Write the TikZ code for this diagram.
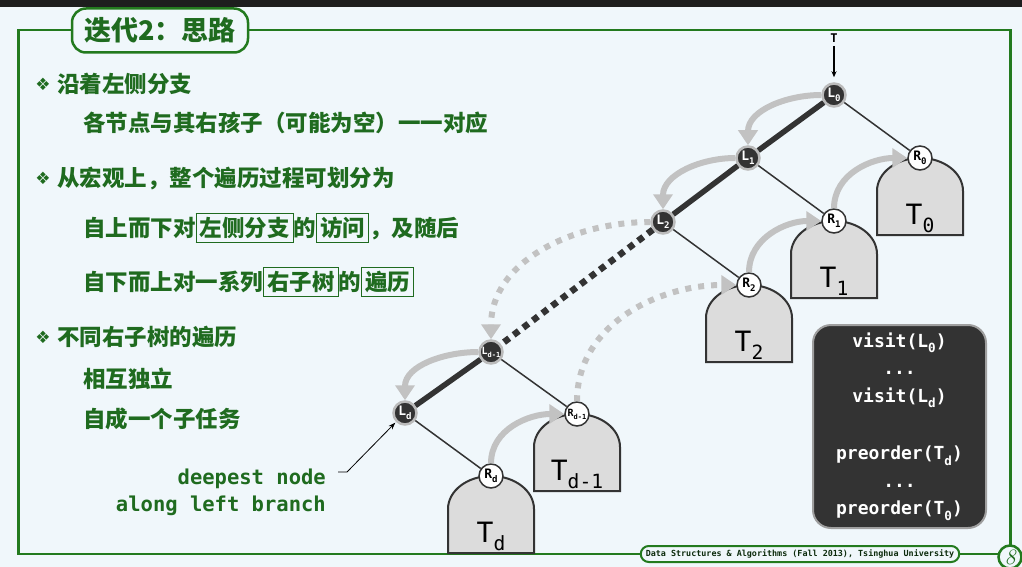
\documentclass[tikz,border=0pt]{standalone}
\usepackage{fontspec}
\usepackage{graphicx}
\setmonofont{DejaVu Sans Mono}
\newfontfamily\cjk{Noto Sans CJK SC}
\newfontfamily\symb{DejaVu Sans}
\usetikzlibrary{calc,positioning,arrows.meta}

\definecolor{pagebg}{HTML}{F0F7FB}
\definecolor{topband}{HTML}{1E1E1E}
\definecolor{dsgreen}{HTML}{1F6B1F}
\definecolor{framegreen}{HTML}{237A1E}
\definecolor{nodedark}{HTML}{333333}
\definecolor{ringgray}{HTML}{BBBBBB}
\definecolor{domegray}{HTML}{DCDCDC}
\definecolor{walkgray}{HTML}{C2C2C2}

\newcommand\kw[1]{{\setlength\fboxsep{3pt}\setlength\fboxrule{1pt}\fbox{#1}}}
\newcommand\dn[1]{\raisebox{-.3em}{\scalebox{.7}{#1}}}
% dome shaped subtree under a right child
\newcommand\drawsubtree[3]{%
    \draw[dome] ($(#1)+(-43,77)$) -- ($(#1)+(-43,33)$)
        arc[start angle=180,end angle=360,x radius=43,y radius=33]
        -- ($(#1)+(43,77)$) -- cycle;
    \node[domelbl] (#2) at ($(#1)+(0,66)$) {#3};}

\tikzset{
    frame/.style={framegreen,line width=2.5pt},
    titlebox/.style={draw=framegreen,line width=2.5pt,fill=pagebg,rounded corners=14pt,
        minimum width=176pt,minimum height=44pt,text=dsgreen,
        font=\cjk\bfseries\fontsize{27}{27}\selectfont},
    footbox/.style={draw=framegreen,line width=2pt,fill=pagebg,rounded corners=8pt,
        minimum height=16pt,inner xsep=5pt,inner ysep=2pt,text=dsgreen!40!black,
        font=\ttfamily\bfseries\fontsize{8.4}{9}\selectfont},
    pagecirc/.style={circle,draw=framegreen,line width=2.5pt,fill=pagebg,
        minimum size=23pt,inner sep=0pt,text=dsgreen,
        font=\fontsize{22}{22}\selectfont\itshape},
    bullet/.style={inner sep=0pt,text=dsgreen,font=\symb\fontsize{17}{17}\selectfont},
    item/.style={anchor=base west,inner sep=0pt,text=dsgreen,
        font=\cjk\bfseries\fontsize{22.5}{27}\selectfont},
    lnode/.style={circle,fill=nodedark,draw=ringgray,line width=2.5pt,minimum size=23pt,
        inner sep=0pt,text=white,font=\ttfamily\bfseries\fontsize{13}{13}\selectfont},
    rnode/.style={circle,fill=white,draw=nodedark,line width=1.5pt,minimum size=24pt,
        inner sep=0pt,font=\ttfamily\bfseries\fontsize{13}{13}\selectfont},
    dome/.style={draw=nodedark,fill=domegray,line width=2pt},
    domelbl/.style={anchor=base,inner sep=0pt,font=\ttfamily\fontsize{28}{28}\selectfont},
    spine/.style={nodedark,line width=5.5pt},
    spinedots/.style={nodedark,line width=6.5pt,dash pattern=on 6.5pt off 5.5pt},
    twig/.style={nodedark,line width=1.5pt},
    walk/.style={walkgray,line width=6pt,-{Triangle[length=15pt,width=19pt]}},
    walkdots/.style={walk,dash pattern=on 6pt off 7pt},
    annot/.style={black,line width=0.8pt,-{Stealth[length=7pt,width=5pt]}},
    deepnote/.style={anchor=east,align=right,inner sep=0pt,text=dsgreen,
        font=\ttfamily\bfseries\fontsize{20.5}{27}\selectfont},
    codebox/.style={rounded corners=18pt,fill=nodedark,draw=ringgray!85!black,line width=2pt,
        minimum width=173pt,minimum height=203pt,text=white,align=center,
        font=\ttfamily\bfseries\fontsize{18}{27.5}\selectfont}
}

\begin{document}
\begin{tikzpicture}[x=1pt,y=-1pt]

    %%% Page %%%
    \fill[pagebg] (0,0) rectangle (1022,567);
    \fill[topband] (0,0) rectangle (1022,7);
    \useasboundingbox (0,0) rectangle (1022,567);
    \draw[frame] (998.5,554) -- (18.5,554) -- (18.5,30) -- (1010.5,30) -- (1010.5,546);

    \node[titlebox] (title) at (160,30.5) {迭代2：思路};
    \node[footbox] (footer) at (800,554) {Data Structures \& Algorithms (Fall 2013), Tsinghua University};
    \node[pagecirc] (pageno) at (1010,557) {8};

    %%% Left text %%%
    \node[bullet] (b1) at (43,84) {❖};
    \node[item] (p1) at (57,92.5) {沿着左侧分支};
    \node[item] (p1a) at (83,131.5) {各节点与其右孩子（可能为空）一一对应};
    \node[bullet] (b2) at (43,178) {❖};
    \node[item] (p2) at (57,186.5) {从宏观上，整个遍历过程可划分为};
    \node[item] (p2a) at (83,236.5) {自上而下对\kw{左侧分支}的\kw{访问}，及随后};
    \node[item] (p2b) at (83,290.5) {自下而上对一系列\kw{右子树}的\kw{遍历}};
    \node[bullet] (b3) at (43,337) {❖};
    \node[item] (p3) at (57,345.5) {不同右子树的遍历};
    \node[item] (p3a) at (83,387.5) {相互独立};
    \node[item] (p3b) at (83,427.5) {自成一个子任务};

    %%% Left branch %%%
    \node[lnode] (l0) at (834,95) {L\dn{0}};
    \node[lnode] (l1) at (748,158) {L\dn{1}};
    \node[lnode] (l2) at (663,222) {L\dn{2}};
    \node[lnode,font=\ttfamily\bfseries\fontsize{10}{10}\selectfont] (ld1) at (491,352) {L\dn{d-1}};
    \node[lnode] (ld) at (405,413) {L\dn{d}};

    \node[font=\ttfamily\bfseries\fontsize{12}{12}\selectfont] (troot) at (834,38) {T};
    \draw[line width=1.2pt,-{Stealth[length=6pt,width=5pt]},shorten >=5pt] (troot) -- (l0);

    %%% Right subtrees %%%
    \coordinate (r0pos) at ($(l0)+(86,63)$);
    \coordinate (r1pos) at ($(l1)+(86,63)$);
    \coordinate (r2pos) at ($(l2)+(86,63)$);
    \coordinate (rd1pos) at ($(ld1)+(86,62)$);
    \coordinate (rdpos) at ($(ld)+(86,63)$);

    \drawsubtree{r0pos}{t0}{T\dn{0}}
    \drawsubtree{r1pos}{t1}{T\dn{1}}
    \drawsubtree{r2pos}{t2}{T\dn{2}}
    \drawsubtree{rd1pos}{td1}{T\dn{d-1}}
    \drawsubtree{rdpos}{td}{T\dn{d}}

    \node[rnode] (r0) at (r0pos) {R\dn{0}};
    \node[rnode] (r1) at (r1pos) {R\dn{1}};
    \node[rnode] (r2) at (r2pos) {R\dn{2}};
    \node[rnode,font=\ttfamily\bfseries\fontsize{10}{10}\selectfont] (rd1) at (rd1pos) {R\dn{d-1}};
    \node[rnode] (rd) at (rdpos) {R\dn{d}};

    \draw[spine] (l0) -- (l1) -- (l2);
    \draw[spinedots] (l2) -- (ld1);
    \draw[spine] (ld1) -- (ld);
    \draw[twig] (l0) -- (r0);
    \draw[twig] (l1) -- (r1);
    \draw[twig] (l2) -- (r2);
    \draw[twig] (ld1) -- (rd1);
    \draw[twig] (ld) -- (rd);

    %%% Traversal %%%
    \draw[walk] (l0.west) to[out=180,in=90] (l1.north);
    \draw[walk] (l1.west) to[out=180,in=90] (l2.north);
    \draw[walkdots] (l2.west) to[out=180,in=90] (ld1.north);
    \draw[walk] (ld1.west) to[out=180,in=90] (ld.north);
    \draw[walk] (rd.north) to[out=90,in=180] (rd1.west);
    \draw[walkdots] (rd1.north) to[out=90,in=180] (r2.west);
    \draw[walk] (r2.north) to[out=90,in=180] (r1.west);
    \draw[walk] (r1.north) to[out=90,in=180] (r0.west);

    %%% Note %%%
    \node[deepnote] (deepest) at (326,492.5) {deepest node\\along left branch};
    \coordinate (notefoot) at (338,472);
    \coordinate (notebend) at (347,472);
    \draw[annot,shorten >=1pt] (notefoot) -- (notebend) -- (ld.south west);

    %%% Code %%%
    \node[codebox] (code) at (899.5,426.5)
        {visit(L\dn{0})\\...\\visit(L\dn{d})\\[30pt]preorder(T\dn{d})\\...\\preorder(T\dn{0})};

\end{tikzpicture}
\end{document}
